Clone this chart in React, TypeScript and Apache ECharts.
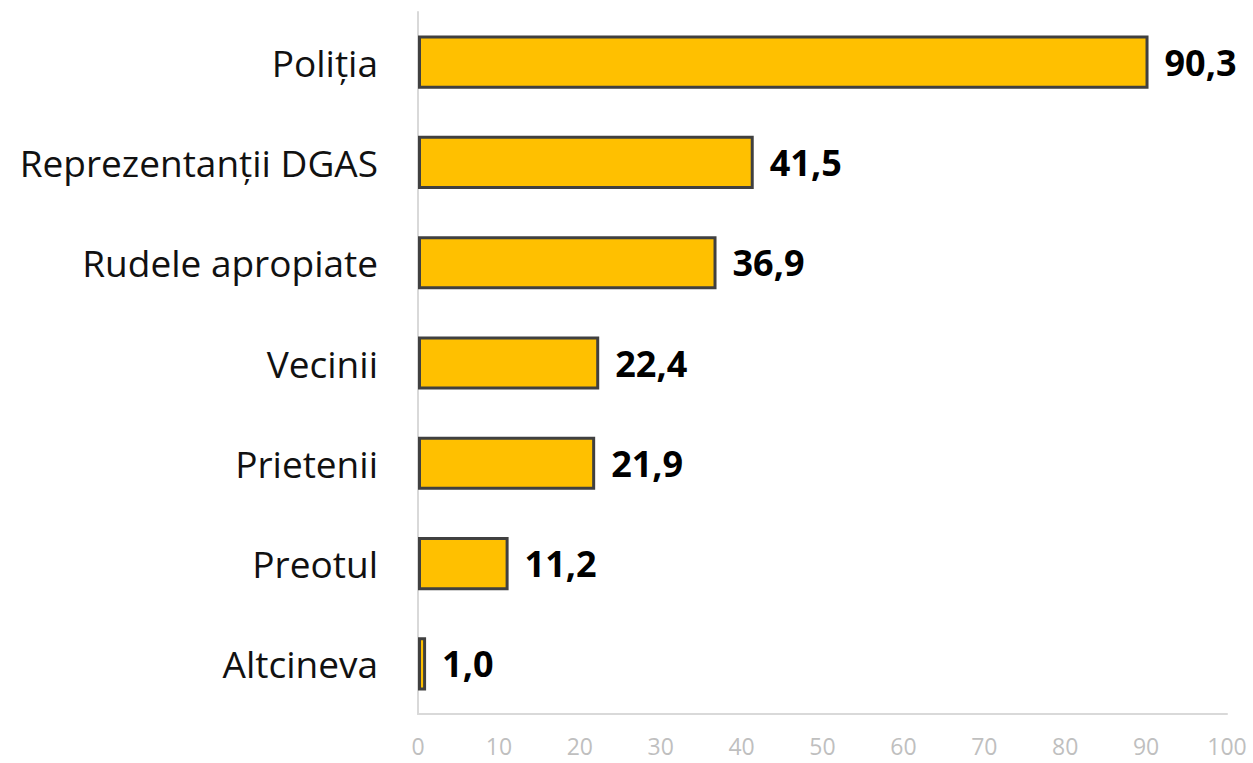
import React, { useEffect, useRef } from "react";
import * as echarts from "echarts";

const categories = [
  "Poliția",
  "Reprezentanții DGAS",
  "Rudele apropiate",
  "Vecinii",
  "Prietenii",
  "Preotul",
  "Altcineva",
];
const values = [90.3, 41.5, 36.9, 22.4, 21.9, 11.2, 1.0];
const axisMin = 0;
const axisMax = 100;
const axisInterval = 10;

export default function App() {
  const ref = useRef<HTMLDivElement>(null);
  useEffect(() => {
    if (!ref.current) return;
    const chart = echarts.init(ref.current, null, { renderer: "svg" });
    chart.setOption({
      animation: false,
      backgroundColor: "#ffffff",
      grid: { left: 418, right: 26, top: 12, bottom: 49, containLabel: false },
      xAxis: {
        type: "value",
        min: axisMin,
        max: axisMax,
        interval: axisInterval,
        axisLine: { show: true, lineStyle: { color: "#D9D9D9", width: 2 } },
        axisTick: { show: false },
        splitLine: { show: false },
        axisLabel: {
          color: "#BFBFBF",
          fontFamily: "Open Sans",
          fontSize: 23,
          lineHeight: 22,
          margin: 21,
        },
      },
      yAxis: {
        type: "category",
        inverse: true,
        data: categories,
        axisLine: { show: true, lineStyle: { color: "#D9D9D9", width: 2 } },
        axisTick: { show: false },
        axisLabel: {
          color: "#111111",
          fontFamily: "Open Sans",
          fontSize: 37,
          margin: 40,
        },
      },
      series: [
        {
          type: "bar",
          data: values,
          barWidth: "53%",
          itemStyle: { color: "#FFC000", borderColor: "#404040", borderWidth: 3 },
          label: {
            show: true,
            position: "right",
            distance: 16,
            color: "#000000",
            fontFamily: "Open Sans",
            fontWeight: "bold",
            fontSize: 36,
            formatter: (p: any) => p.value.toFixed(1).replace(".", ","),
          },
        },
      ],
    });
    return () => chart.dispose();
  }, []);
  return (
    <div
      ref={ref}
      style={{ position: "fixed", left: 0, top: 0, width: 1253, height: 763 }}
    />
  );
}
